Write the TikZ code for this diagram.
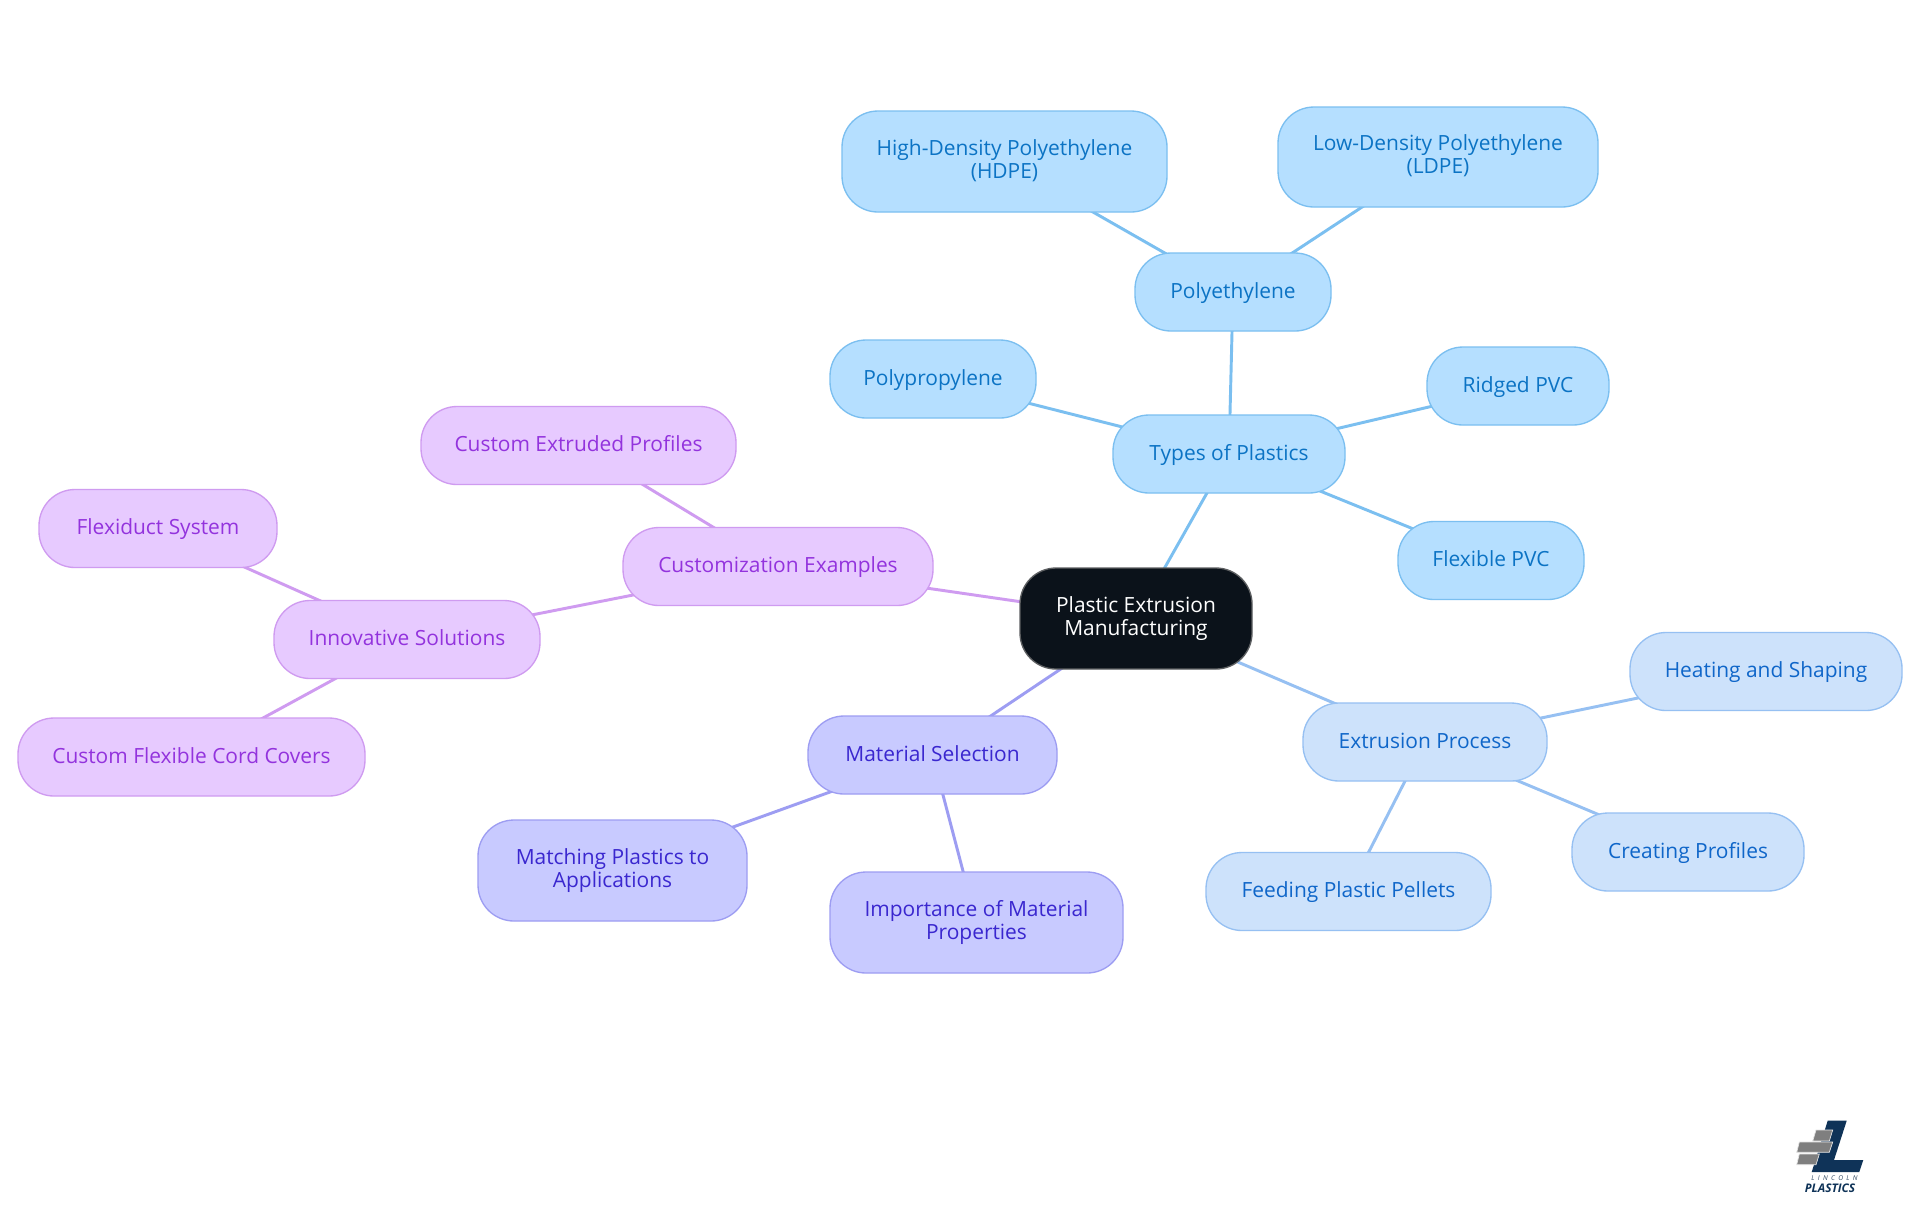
\documentclass[tikz,border=0pt]{standalone}
\usepackage{fontspec}
\setmainfont{Open Sans}
\usetikzlibrary{backgrounds}
\definecolor{bfill}{HTML}{B5DFFF}\definecolor{bline}{HTML}{7BBFF0}\definecolor{btext}{HTML}{0B73C4}
\definecolor{efill}{HTML}{CDE2FB}\definecolor{eline}{HTML}{96C0F2}\definecolor{etext}{HTML}{0F66C9}
\definecolor{mfill}{HTML}{C8CAFF}\definecolor{mline}{HTML}{9D9DF2}\definecolor{mtext}{HTML}{3A27CF}
\definecolor{cfill}{HTML}{E7CAFF}\definecolor{cline}{HTML}{CF9BF0}\definecolor{ctext}{HTML}{9333DD}
\definecolor{rootfill}{HTML}{0B121A}\definecolor{logonavy}{HTML}{0F3358}\definecolor{logogray}{HTML}{7F7F7F}
\newcommand{\linestrut}{\rule[-4pt]{0pt}{17.4pt}}
\tikzset{
  pill/.style={rectangle,rounded corners=27pt,inner sep=0pt,align=center,line width=1pt,
    font=\fontsize{15.7}{17.5}\selectfont,
    execute at begin node=\linestrut,execute at end node=\linestrut},
  wh/.style 2 args={minimum width=#1*0.75pt,minimum height=#2*0.75pt},
  rootnode/.style={pill,fill=rootfill,draw=gray!70!rootfill,text=white},
  bnode/.style={pill,fill=bfill,draw=bline,text=btext},
  enode/.style={pill,fill=efill,draw=eline,text=etext},
  mnode/.style={pill,fill=mfill,draw=mline,text=mtext},
  cnode/.style={pill,fill=cfill,draw=cline,text=ctext},
  link/.style={line width=2.2pt},
  brick/.style={fill=logogray},
}
\begin{document}
\begin{tikzpicture}[x=0.75pt,y=-0.75pt]
\useasboundingbox (0,0) rectangle (1920,1215);
\node[rootnode,wh={232}{101}] (root) at (1136,618.5) {Plastic Extrusion\\Manufacturing};
\node[bnode,wh={232}{78}] (types) at (1229,454) {Types of Plastics};
\node[bnode,wh={196}{78}] (poly) at (1233,292) {Polyethylene};
\node[bnode,wh={325}{101}] (hdpe) at (1004.5,161.5) {High-Density Polyethylene\\(HDPE)};
\node[bnode,wh={320}{100}] (ldpe) at (1438,157) {Low-Density Polyethylene\\(LDPE)};
\node[bnode,wh={206}{78}] (pp) at (933,379) {Polypropylene};
\node[bnode,wh={182}{78}] (rpvc) at (1518,386) {Ridged PVC};
\node[bnode,wh={186}{78}] (fpvc) at (1491,560.5) {Flexible PVC};
\node[enode,wh={244}{78}] (ext) at (1425,742) {Extrusion Process};
\node[enode,wh={272}{78}] (heat) at (1766,671.5) {Heating and Shaping};
\node[enode,wh={232}{78}] (prof) at (1688,852) {Creating Profiles};
\node[enode,wh={285}{78}] (feed) at (1348.5,891.5) {Feeding Plastic Pellets};
\node[mnode,wh={249}{78}] (mat) at (932.5,755) {Material Selection};
\node[mnode,wh={269}{101}] (match) at (612.5,870.5) {Matching Plastics to\\Applications};
\node[mnode,wh={293}{101}] (imp) at (976.5,922.5) {Importance of Material\\Properties};
\node[cnode,wh={310}{78}] (cust) at (778,566.5) {Customization Examples};
\node[cnode,wh={315}{78}] (cep) at (578.5,445.5) {Custom Extruded Profiles};
\node[cnode,wh={266}{78}] (inno) at (407,639.5) {Innovative Solutions};
\node[cnode,wh={238}{78}] (flex) at (158,528.5) {Flexiduct System};
\node[cnode,wh={347}{78}] (cord) at (191.5,757) {Custom Flexible Cord Covers};
\begin{scope}[on background layer]
\fill[white] (0,0) rectangle (1920,1215);
\draw[link,bline] (root.center)--(types.center) (types.center)--(poly.center) (poly.center)--(hdpe.center) (poly.center)--(ldpe.center) (types.center)--(pp.center) (types.center)--(rpvc.center) (types.center)--(fpvc.center);
\draw[link,eline] (root.center)--(ext.center) (ext.center)--(heat.center) (ext.center)--(prof.center) (ext.center)--(feed.center);
\draw[link,mline] (root.center)--(mat.center) (mat.center)--(match.center) (mat.center)--(imp.center);
\draw[link,cline] (root.center)--(cust.center) (cust.center)--(cep.center) (cust.center)--(inno.center) (inno.center)--(flex.center) (inno.center)--(cord.center);
\end{scope}
% logo
\fill[logonavy] (1827.7,1120.7)--(1846.7,1120.7)--(1834,1160)--(1863.3,1160)--(1859.3,1172)--(1811.7,1172)--cycle;
\filldraw[brick,draw=white!80!gray,line width=0.5pt] (1816,1130)--(1832.7,1130)--(1829.3,1141)--(1812.7,1141)--cycle;
\filldraw[brick,draw=white!80!gray,line width=0.5pt] (1799.3,1142)--(1832.7,1142)--(1829.3,1152.3)--(1796.7,1152.3)--cycle;
\filldraw[brick,draw=white!80!gray,line width=0.5pt] (1799.3,1154)--(1819.3,1154)--(1816,1164.7)--(1796.7,1164.7)--cycle;
\node[inner sep=0pt,text=logonavy!70!gray,font=\fontsize{5}{5}\selectfont\itshape] (lincoln) at (1834.5,1178.5) {L\,\,\,I\,\,\,N\,\,\,C\,\,\,O\,\,\,L\,\,\,N};
\node[inner sep=0pt,text=logonavy,font=\fontsize{8.9}{9}\selectfont\bfseries\itshape] (plastics) at (1830,1188.5) {PLASTICS};
\end{tikzpicture}
\end{document}
